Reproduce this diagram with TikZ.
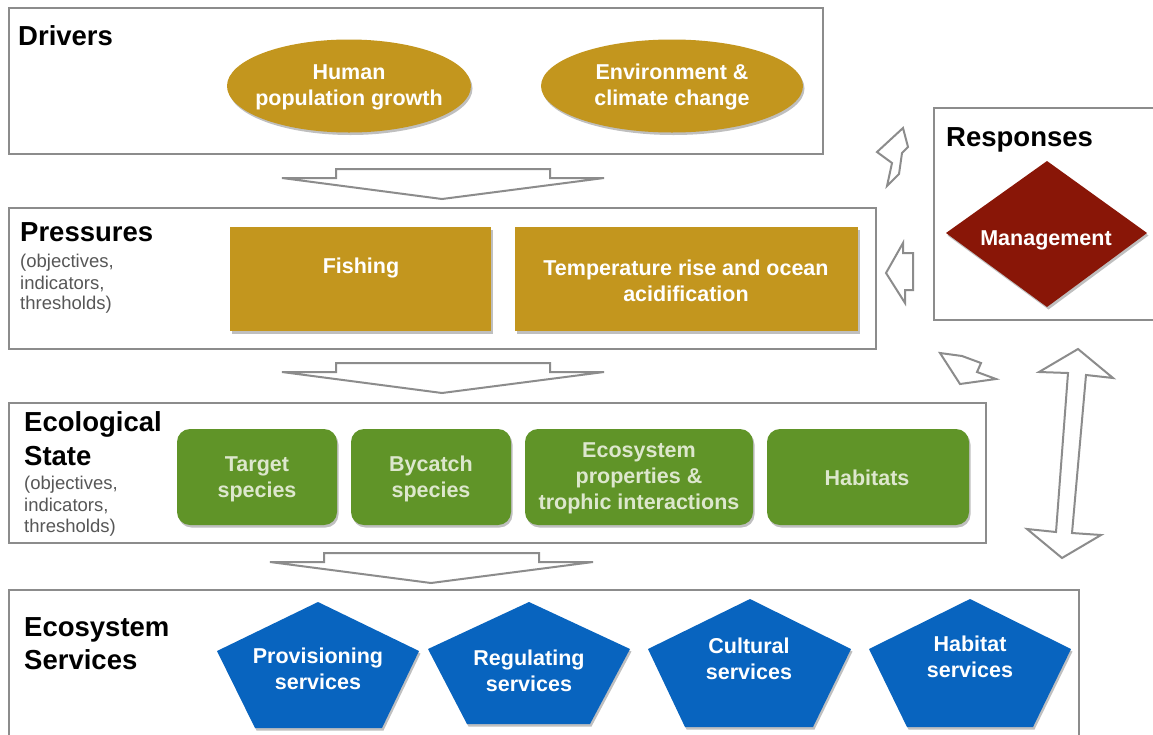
\documentclass[tikz,border=0pt]{standalone}
\usepackage{fontspec}
\setmainfont{Liberation Sans}
\usetikzlibrary{shapes.geometric,shadows}

\definecolor{panelgray}{HTML}{8C8C8C}
\definecolor{gold}{HTML}{C3961E}
\definecolor{leaf}{HTML}{609428}
\definecolor{leaftext}{HTML}{DDE7CD}
\definecolor{sea}{HTML}{0864BF}
\definecolor{maroon}{HTML}{891607}
\definecolor{subgray}{HTML}{575757}

\tikzset{
  panel/.style={draw=panelgray, line width=2pt, fill=white, inner sep=0pt},
  blockarrow/.style={draw=panelgray, line width=2pt, fill=white, line join=miter},
  heading/.style={anchor=base west, inner sep=0pt, font=\fontsize{27.5}{32}\selectfont\bfseries},
  subnote/.style={anchor=base west, inner sep=0pt, text=subgray, font=\fontsize{18.5}{21.5}\selectfont},
  softshadow/.style={drop shadow={shadow xshift=1.5pt, shadow yshift=-2.5pt, opacity=0.25, fill=black}},
  label/.style={align=center, inner sep=0pt, font=\fontsize{21.5}{26}\selectfont\bfseries},
  driver/.style={ellipse, fill=gold, softshadow, inner sep=0pt},
  pressure/.style={rectangle, fill=gold, softshadow, inner sep=0pt},
  statebox/.style={rectangle, rounded corners=13pt, fill=leaf, softshadow, inner sep=0pt},
  service/.style={fill=sea, softshadow},
}

\begin{document}
\begin{tikzpicture}[x=1pt, y=-1pt]
\useasboundingbox[fill=white] (0,0) rectangle (1153,734);
\clip (0,0) rectangle (1153,734);

% ---------- Drivers ----------
\node[panel, minimum width=814pt, minimum height=146pt] (drvpanel) at (416,81) {};
\node[heading] (drvhead) at (18,45) {Drivers};
\node[driver, minimum width=244pt, minimum height=93pt] (human) at (349,86) {};
\node[label, text=white] (humantxt) at (349,87) {Human\\population growth};
\node[driver, minimum width=262pt, minimum height=93pt] (climate) at (672,86) {};
\node[label, text=white] (climatetxt) at (672,87) {Environment \&\\climate change};

% drivers -> pressures
\draw[blockarrow] (282,178) -- (336,178) -- (336,169) -- (550,169) -- (550,178)
  -- (604,178) -- (442,199) -- cycle;

% ---------- Pressures ----------
\node[panel, minimum width=867pt, minimum height=141pt] (prspanel) at (442.5,278.5) {};
\node[heading] (prshead) at (20,241) {Pressures};
\node[subnote] (prsnote1) at (20,267) {(objectives,};
\node[subnote] (prsnote2) at (20,289) {indicators,};
\node[subnote] (prsnote3) at (20,309) {thresholds)};
\node[pressure, minimum width=261pt, minimum height=104pt] (fishing) at (360.5,279) {};
\node[label, text=white] (fishingtxt) at (361,268) {Fishing};
\node[pressure, minimum width=343pt, minimum height=104pt] (warming) at (686.5,279) {};
\node[label, text=white] (warmingtxt) at (686,281) {Temperature rise and ocean\\acidification};

% pressures -> state
\draw[blockarrow] (282,372) -- (336,372) -- (336,363) -- (550,363) -- (550,372)
  -- (604,372) -- (442,393) -- cycle;

% ---------- Ecological state ----------
\node[panel, minimum width=977pt, minimum height=140pt] (stpanel) at (497.5,473) {};
\node[heading] (sthead1) at (24,431) {Ecological};
\node[heading] (sthead2) at (24,465) {State};
\node[subnote] (stnote1) at (24,489) {(objectives,};
\node[subnote] (stnote2) at (24,511) {indicators,};
\node[subnote] (stnote3) at (24,532) {thresholds)};
\node[statebox, minimum width=160pt, minimum height=96pt] (target) at (257,477) {};
\node[label, text=leaftext] (targettxt) at (257,479) {Target\\species};
\node[statebox, minimum width=160pt, minimum height=96pt] (bycatch) at (431,477) {};
\node[label, text=leaftext] (bycatchtxt) at (431,479) {Bycatch\\species};
\node[statebox, minimum width=228pt, minimum height=96pt] (ecoprop) at (639,477) {};
\node[label, text=leaftext] (ecoproptxt) at (639,478) {Ecosystem\\properties \&\\trophic interactions};
\node[statebox, minimum width=202pt, minimum height=96pt] (habitats) at (868,477) {};
\node[label, text=leaftext] (habitatstxt) at (867,478) {Habitats};

% state -> services
\draw[blockarrow] (270,562) -- (324,562) -- (324,553) -- (539,553) -- (539,562)
  -- (593,562) -- (431,583) -- cycle;

% ---------- Ecosystem services ----------
\node[panel, minimum width=1070pt, minimum height=180pt] (svpanel) at (544,680) {};
\node[heading] (svhead1) at (24,636) {Ecosystem};
\node[heading] (svhead2) at (24,669) {Services};

\fill[service] (318,602) -- (419,651) -- (382,728) -- (255,728) -- (217,651) -- cycle;
\node[label, text=white] (provision) at (318,669) {Provisioning\\services};
\fill[service] (529,602) -- (630,649) -- (590,724) -- (467,724) -- (428,649) -- cycle;
\node[label, text=white] (regulate) at (529,670.5) {Regulating\\services};
\fill[service] (750,599) -- (851,649) -- (813,727) -- (685,727) -- (648,649) -- cycle;
\node[label, text=white] (culture) at (749,658.5) {Cultural\\services};
\fill[service] (970,599) -- (1071,649) -- (1033,727) -- (907,727) -- (869,649) -- cycle;
\node[label, text=white] (habserv) at (970,657) {Habitat\\services};

% ---------- Responses ----------
\node[panel, minimum width=240pt, minimum height=212pt] (rsppanel) at (1054,214) {};
\node[heading] (rsphead) at (946,146) {Responses};
\fill[maroon, softshadow] (1047,161) -- (1147,233) -- (1047,307) -- (946,233) -- cycle;
\node[label, text=white] (mgmt) at (1046,240) {Management};

% feedback arrows from the responses
\draw[blockarrow] (903,128) -- (908,147) -- (902,153) -- (899,174) -- (887,186)
  -- (892,163) -- (877,152) -- cycle;
\draw[blockarrow] (886,273) -- (903,243) -- (903,253) -- (913,253) -- (913,290)
  -- (905,290) -- (905,303) -- cycle;
\draw[blockarrow] (940,353) -- (962,356) -- (981,363) -- (977,372) -- (996,379)
  -- (960,384) -- cycle;
\draw[blockarrow] (1078,349) -- (1113,378) -- (1086,375) -- (1072,533) -- (1101,535)
  -- (1062,558) -- (1027,529) -- (1056,532) -- (1068,373) -- (1039,372) -- cycle;
\end{tikzpicture}
\end{document}
